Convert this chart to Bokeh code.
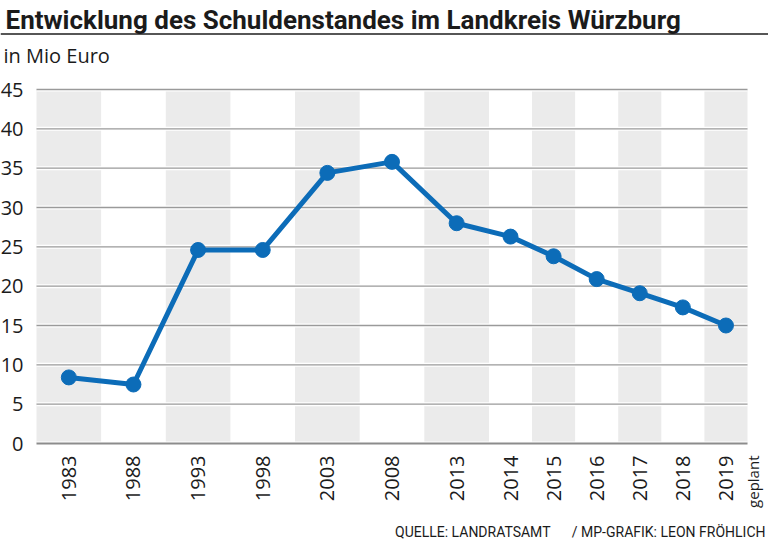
import math
from bokeh.plotting import figure
from bokeh.models import Range1d, ColumnDataSource
from bokeh.embed import file_html
from bokeh.resources import INLINE
from bokeh.core.properties import value

# ---- data ----
years = ["1983", "1988", "1993", "1998", "2003", "2008", "2013",
         "2014", "2015", "2016", "2017", "2018", "2019"]
debt = [8.4, 7.5, 24.6, 24.6, 34.4, 35.8, 28.0, 26.3, 23.8, 20.9, 19.1, 17.3, 15.0]
y_ticks = [0, 5, 10, 15, 20, 25, 30, 35, 40, 45]
y_tick_labels = [str(t) for t in y_ticks]
title_text = "Entwicklung des Schuldenstandes im Landkreis Würzburg"
unit_text = "in Mio Euro"
source_text = "QUELLE: LANDRATSAMT"
credit_text = "/ MP-GRAFIK: LEON FRÖHLICH"
note_text = "geplant"

# column widths (5-year steps drawn wider than yearly steps)
col_widths = [1.5] * 7 + [1.0] * 6

edges = [0.0]
for w in col_widths:
    edges.append(edges[-1] + w)
lefts = edges[:-1]
rights = edges[1:]
centers = [(a + b) / 2 for a, b in zip(lefts, rights)]

FONT = "Open Sans"
HEAD_FONT = "Roboto"
BLUE = "#0c6cb8"
TXT = "#1b1b1b"
W, H = 768, 541

# pixel layout of the plotting area inside the canvas
LEFT, RIGHT_END = 36, 747      # x px of first / last column edge
TOP45, BOT0 = 89, 443          # y px of the 45 and 0 lines
PPU_X = (RIGHT_END - LEFT) / edges[-1]
PPU_Y = (BOT0 - TOP45) / 45
x_min = -LEFT / PPU_X
x_max = (W - LEFT) / PPU_X
y_max = 45 + TOP45 / PPU_Y
y_min = -(H - BOT0) / PPU_Y

p = figure(width=W, height=H, output_backend="svg", toolbar_location=None,
           x_range=Range1d(x_min, x_max), y_range=Range1d(y_min, y_max),
           x_axis_type=None, y_axis_type=None,
           min_border_left=0, min_border_right=0, min_border_top=0,
           min_border_bottom=0, outline_line_color=None,
           background_fill_color="white", border_fill_color="white")
p.grid.grid_line_color = None

# alternating column bands
band_src = ColumnDataSource(dict(
    left=[l for i, l in enumerate(lefts) if i % 2 == 0],
    right=[r for i, r in enumerate(rights) if i % 2 == 0],
))
p.quad(left="left", right="right", bottom=0, top=45, source=band_src,
       fill_color="#ebebeb", line_color=None)

# grid lines over the bands
g0 = [0.0] * len(y_ticks)
g1 = [edges[-1]] * len(y_ticks)
p.segment(x0=g0, y0=y_ticks, x1=g1, y1=y_ticks, line_color="white", line_width=4)
p.segment(x0=g0[1:], y0=y_ticks[1:], x1=g1[1:], y1=y_ticks[1:],
          line_color="#9a9a9a", line_width=1.4)
p.segment(x0=[0.0], y0=[0], x1=[edges[-1]], y1=[0], line_color="#8c8c8c", line_width=2)

# data line
src = ColumnDataSource(dict(x=centers, y=debt, year=years))
p.line("x", "y", source=src, line_color=BLUE, line_width=5, line_join="round")
p.scatter("x", "y", source=src, size=15, fill_color=BLUE, line_color=BLUE)

# y tick labels
p.text(x=[0.0] * len(y_ticks), y=y_ticks, text=y_tick_labels, x_offset=-13,
       text_align="right", text_baseline="middle", text_font=value(FONT),
       text_font_size="20px", text_color=TXT)

# year labels (rotated) under each column
p.text(x="x", y=0, text="year", source=src, angle=math.pi / 2, y_offset=12,
       text_align="right", text_baseline="middle", text_font=value(FONT),
       text_font_size="20px", text_color=TXT)
# "geplant" note beside the last year
p.text(x=[centers[-1]], y=[0], text=[note_text], angle=math.pi / 2,
       x_offset=27, y_offset=12, text_align="right", text_baseline="middle",
       text_font=value(FONT), text_font_size="15px", text_color=TXT)

# header (text anchored at its vertical middle)
p.text(x=[0.0], y=[45], text=[title_text], x_offset=-31, y_offset=19 - TOP45,
       text_font=value(HEAD_FONT), text_font_style="bold", text_font_size="26px",
       text_color=TXT, text_baseline="middle", text_align="left")
rule_y = 45 + (TOP45 - 33.5) / PPU_Y
p.segment(x0=[x_min], y0=[rule_y], x1=[x_max], y1=[rule_y],
          line_color="#1e1e1e", line_width=1.5)
p.text(x=[0.0], y=[45], text=[unit_text], x_offset=-33, y_offset=54.5 - TOP45,
       text_font=value(FONT), text_font_size="20px", text_color=TXT,
       text_baseline="middle", text_align="left")

# footer
p.text(x=[edges[-1]], y=[0], text=[source_text], x_offset=550 - RIGHT_END,
       y_offset=531.5 - BOT0, text_align="right", text_baseline="middle",
       text_font=value(HEAD_FONT), text_font_size="14px", text_color=TXT)
p.text(x=[edges[-1]], y=[0], text=[credit_text], x_offset=765 - RIGHT_END,
       y_offset=531.5 - BOT0, text_align="right", text_baseline="middle",
       text_font=value(HEAD_FONT), text_font_size="14px", text_color=TXT)

open("out.html", "w").write(file_html(p, INLINE))
